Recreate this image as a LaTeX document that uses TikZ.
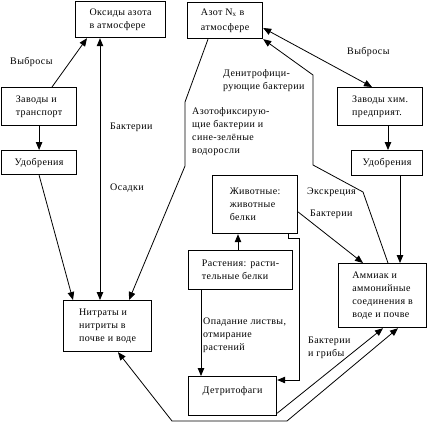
\documentclass[tikz,border=0pt]{standalone}
\usepackage{fontspec}
\setmainfont{Liberation Serif}[LetterSpace=4]
\usetikzlibrary{arrows.meta,calc}
\newcommand\myfs{\fontsize{10}{13}\selectfont}
\begin{document}
\begin{tikzpicture}[x=1pt,y=-1pt,font=\myfs,
  box/.style={draw,line width=1.2pt,anchor=north west,inner sep=0pt,align=left},
  lbl/.style={anchor=west,inner sep=0pt,align=left},
  ln/.style={line width=0.8pt},
  tip/.style={ln,-{Triangle[length=8pt,width=6.5pt]}},
  dtip/.style={ln,{Triangle[length=8pt,width=6.5pt]}-{Triangle[length=8pt,width=6.5pt]}}]
\useasboundingbox (0,0) rectangle (427,440);
% boxes
\node[box,minimum width=90pt,minimum height=36pt] (ox) at (75,1) {Оксиды азота\\в атмосфере};
\node[box,minimum width=75pt,minimum height=36pt] (az) at (187,2) {Азот N\textsubscript{x} в\\[2pt]атмосфере};
\node[box,minimum width=75pt,minimum height=38pt] (zt) at (1,87) {Заводы и\\транспорт};
\node[box,minimum width=75pt,minimum height=24pt] (ud1) at (1,150) {Удобрения};
\node[box,minimum width=85pt,minimum height=38pt] (zh) at (337,87) {Заводы хим.\\предприят.};
\node[box,minimum width=71pt,minimum height=25pt] (ud2) at (351,150) {Удобрения};
\node[box,minimum width=85pt,minimum height=58pt] (zw) at (212,175) {Животные:\\животные\\белки};
\node[box,minimum width=104pt,minimum height=39pt] (ra) at (188,250) {Растения: расти-\\тельные белки};
\node[box,minimum width=88pt,minimum height=51pt] (ni) at (63,300) {Нитраты и\\нитриты в\\почве и воде};
\node[box,minimum width=88pt,minimum height=64pt] (am) at (338,263) {Аммиак и\\аммонийные\\соединения в\\воде и почве};
\node[box,minimum width=88pt,minimum height=39pt] (de) at (188,376) {Детритофаги\\\mbox{}};
% bend points
\coordinate (p1) at (185,102);
\coordinate (p2) at (185,166);
\coordinate (q1) at (363,192);
\coordinate (q2) at (313,165);
\coordinate (q3) at (313,75);
\coordinate (r1) at (288,238);
\coordinate (r2) at (299,238);
\coordinate (r3) at (299,380);
\coordinate (s1) at (172,421);
\coordinate (s2) at (287,421);
% connectors
\draw[tip] ($(zt.north west)+(51,0)$) -- ($(ox.south west)+(12,0)$);
\draw[dtip] ($(ox.south west)+(25,0)$) -- ($(ni.north west)+(37,0)$);
\draw[tip] (zt.south) -- (ud1.north);
\draw[tip] (ud1.south) -- ($(ni.north west)+(10,0)$);
\draw[tip] ($(az.south west)+(21,0)$) -- (p1) -- (p2) -- ($(ni.north west)+(66,0)$);
\draw[dtip] ($(az.north east)+(0,26)$) -- ($(zh.north west)+(35,0)$);
\draw[tip] ($(am.north west)+(50,0)$) -- (q1) -- (q2) -- (q3) -- (az.south east);
\draw[tip] ($(zh.south west)+(51,0)$) -- ($(ud2.north west)+(37,0)$);
\draw[tip] ($(ud2.south west)+(49,0)$) -- ($(am.north west)+(62,0)$);
\draw[tip] ($(ra.north west)+(50,0)$) -- ($(zw.south west)+(26,0)$);
\draw[tip] ($(zw.south west)+(76,0)$) -- (r1) -- (r2) -- (r3) -- (r3 -| de.east);
\draw[tip] ($(zw.north east)+(0,37)$) -- ($(am.north west)+(25,0)$);
\draw[tip] ($(ra.south west)+(13,0)$) -- ($(de.north west)+(13,0)$);
\draw[tip] ($(de.south east)+(0,-3)$) -- ($(am.south west)+(45,0)$);
\draw[dtip] ($(ni.south west)+(55,0)$) -- (s1) -- (s2) -- ($(am.south west)+(60,0)$);
% labels
\node[lbl] (l1) at (10,62) {Выбросы};
\node[lbl] (l2) at (110,127) {Бактерии};
\node[lbl] (l3) at (110,188) {Осадки};
\node[lbl] (l4) at (192,132) {Азотофиксирую-\\щие бактерии и\\сине-зелёные\\водоросли};
\node[lbl] (l5) at (223,81) {Денитрофици-\\рующие бактерии};
\node[lbl] (l6) at (347,52) {Выбросы};
\node[lbl] (l7) at (307,192) {Экскреция};
\node[lbl] (l8) at (310,214) {Бактерии};
\node[lbl] (l9) at (203,335) {Опадание листвы,\\отмирание\\растений};
\node[lbl] (l10) at (308,348) {Бактерии\\и грибы};
\end{tikzpicture}
\end{document}
